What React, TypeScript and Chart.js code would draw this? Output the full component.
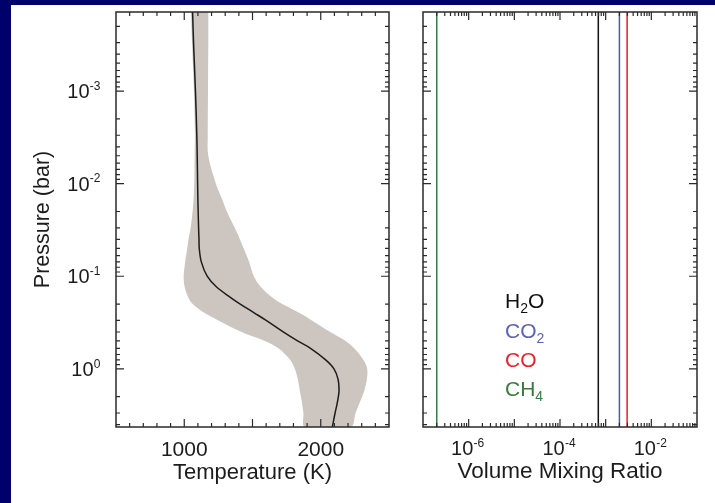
import React, { useEffect, useRef } from 'react';
import { Chart, registerables } from 'chart.js';

Chart.register(...registerables);

// ---------------- data ----------------
// Pressure levels (bar) of the temperature profile
const PRESSURE = [1.4e-4, 3e-4, 1e-3, 3e-3, 5e-3, 0.01, 0.015, 0.02, 0.03, 0.04, 0.05, 0.07, 0.1, 0.13, 0.17, 0.2, 0.25, 0.3, 0.4, 0.5, 0.6, 0.8, 1.0, 1.3, 1.7, 2.0, 2.5, 3.0, 4.25];
// Best-fit temperature (K)
const T_MEAN = [1061, 1068, 1082, 1092, 1095, 1098, 1100, 1102, 1105, 1108, 1110, 1125, 1168, 1235, 1340, 1410, 1515, 1600, 1725, 1830, 1925, 2036, 2097, 2127, 2134, 2129, 2117, 2105, 2085];
// Lower / upper envelope of the shaded range (K)
const T_LOW = [1049, 1057, 1071, 1078, 1076, 1073, 1068, 1061, 1047, 1031, 1022, 1007, 996, 1003, 1030, 1062, 1150, 1250, 1420, 1590, 1690, 1775, 1810, 1832, 1846, 1855, 1866, 1873, 1885];
const T_HIGH = [1176, 1176, 1174, 1172, 1176, 1232, 1280, 1312, 1370, 1408, 1435, 1475, 1510, 1560, 1645, 1718, 1845, 1935, 2070, 2182, 2245, 2312, 2340, 2338, 2320, 2303, 2275, 2255, 2219];

const P_MIN = 1.4e-4;
const P_MAX = 4.25;
const T_MIN = 500;
const T_MAX = 2500;
const T_TICK_LABELS = [1000, 2000];
const P_TICK_EXPONENTS = [-3, -2, -1, 0];

const VMR_MIN = 1e-7;
const VMR_MAX = 1e-1;
const VMR_TICK_EXPONENTS = [-6, -4, -2];

const SPECIES = ['H2O', 'CO2', 'CO', 'CH4'];
const SPECIES_LABEL_PARTS = [['H', '2', 'O'], ['CO', '2', ''], ['CO', '', ''], ['CH', '4', '']];
const SPECIES_VMR = [6.9e-4, 2.0e-3, 2.95e-3, 2.0e-7];
const SPECIES_LINE_COLORS = ['#111111', '#4d5aa6', '#e0222b', '#3a7a45'];
const SPECIES_TEXT_COLORS = ['#111111', '#5c62b4', '#e8232c', '#3b7a3f'];

// ---------------- style ----------------
const NAVY = '#00006c';
const BAND_COLOR = '#ccc5c0';
const FONT = '"Liberation Sans", Arial, Helvetica, sans-serif';
const TEXT = '#1c1c1c';

function linTicks(min: number, max: number, step: number, majorEvery: number) {
  const out: { v: number; major: boolean }[] = [];
  for (let v = min; v <= max + 1e-9; v += step) out.push({ v, major: Math.abs(v % majorEvery) < 1e-6 });
  return out;
}
function logTicks(min: number, max: number) {
  const out: { v: number; major: boolean }[] = [];
  const e0 = Math.floor(Math.log10(min));
  const e1 = Math.ceil(Math.log10(max));
  for (let e = e0; e <= e1; e++) {
    for (let m = 1; m <= 9; m++) {
      const v = m * Math.pow(10, e);
      if (v >= min * 0.999 && v <= max * 1.001) out.push({ v, major: m === 1 });
    }
  }
  return out;
}

function drawPow(ctx: CanvasRenderingContext2D, exp: number, x: number, yc: number, align: 'right' | 'center') {
  ctx.font = `20px ${FONT}`;
  const wb = ctx.measureText('10').width;
  const et = String(exp);
  ctx.font = `12px ${FONT}`;
  const we = ctx.measureText(et).width;
  const total = wb + we + 0.3;
  const x0 = align === 'right' ? x - total : x - total / 2;
  const base = yc + 7.2;
  ctx.textAlign = 'left';
  ctx.textBaseline = 'alphabetic';
  ctx.fillStyle = TEXT;
  ctx.font = `20px ${FONT}`;
  ctx.fillText('10', x0, base);
  ctx.font = `12px ${FONT}`;
  ctx.fillText(et, x0 + wb + 0.3, base - 8.5);
}

function makeFrame(xt: { v: number; major: boolean }[], yt: { v: number; major: boolean }[], labels: (ctx: CanvasRenderingContext2D, chart: any) => void) {
  return {
    id: 'frameTicks',
    afterDatasetsDraw(chart: any) {
      const { ctx, chartArea: a } = chart;
      const xs = chart.scales.x;
      const ys = chart.scales.y;
      ctx.save();
      ctx.strokeStyle = '#2a2a2a';
      ctx.lineWidth = 1.2;
      ctx.beginPath();
      xt.forEach((t) => {
        const p = xs.getPixelForValue(t.v);
        if (p < a.left + 1 || p > a.right - 1) return;
        const len = t.major ? 8 : 4;
        ctx.moveTo(p, a.bottom);
        ctx.lineTo(p, a.bottom - len);
        ctx.moveTo(p, a.top);
        ctx.lineTo(p, a.top + len);
      });
      yt.forEach((t) => {
        const p = ys.getPixelForValue(t.v);
        if (p < a.top + 1 || p > a.bottom - 1) return;
        const len = t.major ? 8 : 4;
        ctx.moveTo(a.left, p);
        ctx.lineTo(a.left + len, p);
        ctx.moveTo(a.right, p);
        ctx.lineTo(a.right - len, p);
      });
      ctx.stroke();
      ctx.lineWidth = 1.5;
      ctx.strokeRect(a.left, a.top, a.right - a.left, a.bottom - a.top);
      labels(ctx, chart);
      ctx.restore();
    },
  };
}

function leftConfig(): any {
  const band = [
    ...PRESSURE.map((p, i) => ({ x: T_LOW[i], y: p })),
    ...PRESSURE.map((p, i) => ({ x: T_HIGH[i], y: p })).reverse(),
  ];
  const mean = PRESSURE.map((p, i) => ({ x: T_MEAN[i], y: p }));
  const frame = makeFrame(linTicks(T_MIN, T_MAX, 100, 500), logTicks(P_MIN, P_MAX), (ctx, chart) => {
    const xs = chart.scales.x;
    const ys = chart.scales.y;
    ctx.fillStyle = TEXT;
    ctx.font = `21px ${FONT}`;
    ctx.textAlign = 'center';
    ctx.textBaseline = 'alphabetic';
    T_TICK_LABELS.forEach((t) => ctx.fillText(String(t), xs.getPixelForValue(t), 443.5 + 7.5));
    P_TICK_EXPONENTS.forEach((e) => drawPow(ctx, e, chart.chartArea.left - 15.5, ys.getPixelForValue(Math.pow(10, e)), 'right'));
  });
  return {
    type: 'line',
    data: {
      datasets: [
        { data: mean, fill: false, borderColor: '#1c1c1c', borderWidth: 1.5, pointRadius: 0, tension: 0.35, order: 1 },
        { data: band, fill: 'shape', backgroundColor: BAND_COLOR, borderColor: 'rgba(0,0,0,0)', borderWidth: 0, pointRadius: 0, tension: 0.35, order: 2 },
      ],
    },
    options: {
      responsive: false,
      animation: false,
      devicePixelRatio: 1,
      layout: { padding: { top: 7, right: 7, left: 0, bottom: 0 } },
      plugins: { legend: { display: false }, tooltip: { enabled: false } },
      scales: {
        x: {
          type: 'linear', min: T_MIN, max: T_MAX,
          grid: { display: false }, border: { display: false }, ticks: { display: false },
          title: { display: true, text: 'Temperature (K)', color: TEXT, font: { family: FONT, size: 22 }, padding: { top: 0, bottom: 16.5 } },
          afterFit: (s: any) => { s.height = 76; },
        },
        y: {
          type: 'logarithmic', reverse: true, min: P_MIN, max: P_MAX,
          grid: { display: false }, border: { display: false }, ticks: { display: false },
          title: { display: true, text: 'Pressure (bar)', color: TEXT, font: { family: FONT, size: 21.5 }, padding: { top: 19, bottom: 0 } },
          afterFit: (s: any) => { s.width = 105; },
        },
      },
    },
    plugins: [frame],
  };
}

function rightConfig(): any {
  const datasets = SPECIES.map((s, i) => ({
    label: s,
    data: [{ x: SPECIES_VMR[i], y: P_MIN }, { x: SPECIES_VMR[i], y: P_MAX }],
    borderColor: SPECIES_LINE_COLORS[i],
    borderWidth: 1.5,
    pointRadius: 0,
    fill: false,
  }));
  const frame = makeFrame(logTicks(VMR_MIN, VMR_MAX), logTicks(P_MIN, P_MAX), (ctx, chart) => {
    const xs = chart.scales.x;
    VMR_TICK_EXPONENTS.forEach((e) => drawPow(ctx, e, xs.getPixelForValue(Math.pow(10, e)) - 1, 443, 'center'));
    // species legend
    SPECIES_LABEL_PARTS.forEach((parts, i) => {
      let x = 105;
      const base = 303.3 + i * 29.3;
      ctx.fillStyle = SPECIES_TEXT_COLORS[i];
      ctx.textAlign = 'left';
      ctx.textBaseline = 'alphabetic';
      ctx.font = `21px ${FONT}`;
      ctx.fillText(parts[0], x, base);
      x += ctx.measureText(parts[0]).width;
      if (parts[1]) {
        ctx.font = `14px ${FONT}`;
        ctx.fillText(parts[1], x, base + 5);
        x += ctx.measureText(parts[1]).width;
      }
      if (parts[2]) {
        ctx.font = `21px ${FONT}`;
        ctx.fillText(parts[2], x, base);
      }
    });
  });
  return {
    type: 'line',
    data: { datasets },
    options: {
      responsive: false,
      animation: false,
      devicePixelRatio: 1,
      layout: { padding: { top: 7, right: 18, left: 0, bottom: 0 } },
      plugins: { legend: { display: false }, tooltip: { enabled: false } },
      scales: {
        x: {
          type: 'logarithmic', min: VMR_MIN, max: VMR_MAX,
          grid: { display: false }, border: { display: false }, ticks: { display: false },
          title: { display: true, text: 'Volume Mixing Ratio', color: TEXT, font: { family: FONT, size: 22.5 }, padding: { top: 0, bottom: 18 } },
          afterFit: (s: any) => { s.height = 76; },
        },
        y: {
          type: 'logarithmic', reverse: true, min: P_MIN, max: P_MAX,
          grid: { display: false }, border: { display: false }, ticks: { display: false },
          afterFit: (s: any) => { s.width = 23; },
        },
      },
    },
    plugins: [frame],
  };
}

export default function App() {
  const leftRef = useRef<HTMLCanvasElement>(null);
  const rightRef = useRef<HTMLCanvasElement>(null);
  useEffect(() => {
    const c1 = new Chart(leftRef.current as HTMLCanvasElement, leftConfig());
    const c2 = new Chart(rightRef.current as HTMLCanvasElement, rightConfig());
    return () => {
      c1.destroy();
      c2.destroy();
    };
  }, []);
  return (
    <div style={{ position: 'absolute', left: 0, top: 0, width: 715, height: 503, background: NAVY, overflow: 'hidden' }}>
      <div style={{ position: 'absolute', left: 11, top: 5, width: 704, height: 498, background: '#ffffff' }} />
      <canvas ref={leftRef} width={385} height={498} style={{ position: 'absolute', left: 11, top: 5, width: 385, height: 498 }} />
      <canvas ref={rightRef} width={315} height={498} style={{ position: 'absolute', left: 400, top: 5, width: 315, height: 498 }} />
    </div>
  );
}
